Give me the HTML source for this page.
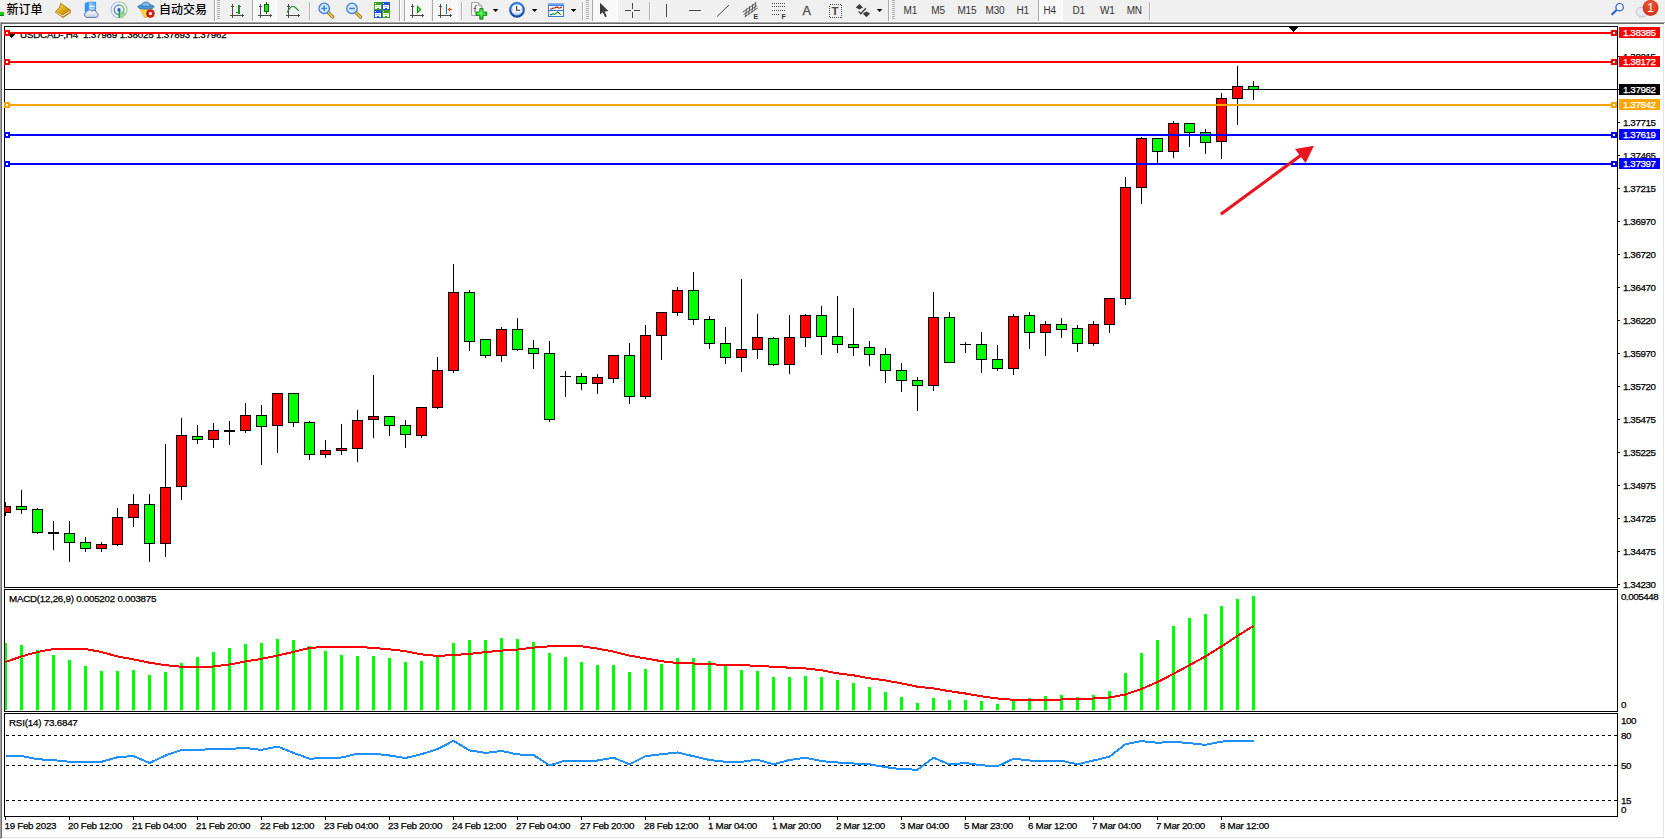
<!DOCTYPE html>
<html><head><meta charset="utf-8"><title>USDCAD-,H4</title>
<style>html,body{margin:0;padding:0;background:#fff;overflow:hidden}svg{display:block}</style>
</head><body>
<svg width="1665" height="839" viewBox="0 0 1665 839" font-family="'Liberation Sans','Noto Sans CJK SC',sans-serif" shape-rendering="crispEdges">
<rect x="0" y="0" width="1665" height="839" fill="#ffffff"/>
<rect x="0" y="0" width="1665" height="21" fill="#f0f0f0"/>
<rect x="0" y="21" width="1665" height="1" fill="#fafafa"/>
<rect x="0" y="22" width="1665" height="1" fill="#a0a0a0"/>
<rect x="0" y="23" width="1665" height="1" fill="#696969"/>
<rect x="0" y="22" width="1" height="817" fill="#a0a0a0"/>
<rect x="1" y="23" width="1" height="815" fill="#696969"/>
<rect x="1663" y="24" width="1" height="813" fill="#e3e3e3"/>
<rect x="2" y="837" width="1662" height="1" fill="#e3e3e3"/>
<rect x="1664" y="23" width="1" height="816" fill="#ffffff"/>
<rect x="1" y="838" width="1664" height="1" fill="#ffffff"/>
<g id="toolbar">
<rect x="0" y="12" width="4" height="3" fill="#14c814"/><rect x="0" y="15" width="4" height="1" fill="#0a7a0a"/>
<text x="6.5" y="13.7" font-size="12" font-weight="500" fill="#000">新订单</text>
<defs><linearGradient id="gb" x1="0" y1="0" x2="1" y2="1"><stop offset="0" stop-color="#fae070"/><stop offset="0.45" stop-color="#e4b018"/><stop offset="1" stop-color="#b87c0a"/></linearGradient><linearGradient id="cl" x1="0" y1="0" x2="0" y2="1"><stop offset="0" stop-color="#ffffff"/><stop offset="1" stop-color="#c4cfe4"/></linearGradient><linearGradient id="bx" x1="0" y1="0" x2="1" y2="0"><stop offset="0" stop-color="#1e90ff"/><stop offset="0.35" stop-color="#3aa0ff"/><stop offset="0.36" stop-color="#9fd0ff"/><stop offset="1" stop-color="#4a9ff0"/></linearGradient><radialGradient id="bd" cx="0.5" cy="0.3" r="0.8"><stop offset="0" stop-color="#ea5a3a"/><stop offset="1" stop-color="#cf2a12"/></radialGradient></defs>
<g shape-rendering="geometricPrecision"><polygon points="60.6,2.8 70.4,9.8 71.2,12.4 63,17.9 54.8,12.2 59,7.4" fill="#a8721a"/><polygon points="62.8,16.8 70.4,11.8 70,10.4 62.6,15.2 56,11.8 55.8,12.6" fill="#f0dca0"/><polygon points="61,3.8 69.6,10 62.6,14.8 56.2,11.4 59.8,7.6" fill="url(#gb)"/></g>
<g shape-rendering="geometricPrecision"><path d="M85.2 3.4 l3 -1.2 h7.4 v9.6 h-10.4 z" fill="url(#bx)" stroke="#1878e0" stroke-width="0.6"/><rect x="89.6" y="5.6" width="5" height="1.6" fill="#e8f4ff"/><rect x="89.6" y="8.2" width="5" height="1.2" fill="#cfe6ff"/><path d="M86.8 17.4 a2.7 2.7 0 0 1 -0.3 -5.3 a3 3 0 0 1 5.4 -0.9 a2.9 2.9 0 0 1 4.8 1.6 a2.4 2.4 0 0 1 -0.5 4.6 z" fill="url(#cl)" stroke="#5a78b4" stroke-width="1"/></g>
<g shape-rendering="geometricPrecision" fill="none"><path d="M119 17.8 a8 8 0 0 1 0 -16" stroke="#a9c0ea" stroke-width="1.1"/><path d="M119 1.8 a8 8 0 0 1 0 16" stroke="#9cc8a0" stroke-width="1.1"/><path d="M119 14.6 a4.8 4.8 0 0 1 0 -9.6" stroke="#5f8ce0" stroke-width="1.5"/><path d="M119 5 a4.8 4.8 0 0 1 0 9.6" stroke="#6fb87a" stroke-width="1.5"/><path d="M119.4 17.8 a8 8 0 0 0 6.6 -5 l-6.6 -2 z" fill="#8cc894" stroke="none" opacity="0.8"/><rect x="118.5" y="9.8" width="1.5" height="8" fill="#22a828" stroke="none"/><circle cx="119" cy="9.7" r="1.7" fill="#2860d0" stroke="none"/></g>
<g shape-rendering="geometricPrecision"><polygon points="139.4,8 152.6,8 146.6,17.4 144.6,17.4" fill="#f6d648" stroke="#d0a21e" stroke-width="0.6"/><ellipse cx="146" cy="6.8" rx="8.2" ry="2.4" fill="#4a9ad8" stroke="#2a6aa8" stroke-width="0.7"/><path d="M141.6 6.4 q0.4 -4.4 4.4 -4.4 q4 0 4.4 4.4 z" fill="#78b8e8" stroke="#2a6aa8" stroke-width="0.7"/><circle cx="150.4" cy="13.6" r="4" fill="#d8200e" stroke="#a81408" stroke-width="0.5"/><rect x="149" y="12.2" width="2.8" height="2.8" fill="#fff"/></g>
<text x="159" y="13.7" font-size="12" font-weight="500" fill="#000">自动交易</text>
<rect x="214" y="0" width="1" height="21" fill="#a8a8a8"/><rect x="215" y="0" width="1" height="21" fill="#ffffff"/>
<rect x="217" y="0" width="3" height="1" fill="#b0b0b0"/>
<rect x="217" y="2" width="3" height="1" fill="#b0b0b0"/>
<rect x="217" y="4" width="3" height="1" fill="#b0b0b0"/>
<rect x="217" y="6" width="3" height="1" fill="#b0b0b0"/>
<rect x="217" y="8" width="3" height="1" fill="#b0b0b0"/>
<rect x="217" y="10" width="3" height="1" fill="#b0b0b0"/>
<rect x="217" y="12" width="3" height="1" fill="#b0b0b0"/>
<rect x="217" y="14" width="3" height="1" fill="#b0b0b0"/>
<rect x="217" y="16" width="3" height="1" fill="#b0b0b0"/>
<rect x="217" y="18" width="3" height="1" fill="#b0b0b0"/>
<rect x="232" y="5" width="1" height="13" fill="#4a4a4a"/>
<rect x="230" y="15" width="13" height="1" fill="#4a4a4a"/>
<rect x="231" y="6" width="3" height="1" fill="#4a4a4a"/><rect x="232" y="4" width="1" height="1" fill="#4a4a4a"/>
<rect x="242" y="14" width="1" height="3" fill="#4a4a4a"/><rect x="243" y="15" width="1" height="1" fill="#4a4a4a"/>
<rect x="238" y="5" width="2" height="9" fill="#1e8e1e"/><rect x="240" y="6" width="1" height="1" fill="#1e8e1e"/><rect x="236" y="12" width="2" height="1" fill="#1e8e1e"/>
<rect x="252" y="0" width="25" height="21" fill="#f8f8f8"/><rect x="252" y="0" width="1" height="21" fill="#a8a8a8"/><rect x="276" y="0" width="1" height="21" fill="#ffffff"/>
<rect x="260" y="5" width="1" height="13" fill="#4a4a4a"/>
<rect x="258" y="15" width="13" height="1" fill="#4a4a4a"/>
<rect x="259" y="6" width="3" height="1" fill="#4a4a4a"/><rect x="260" y="4" width="1" height="1" fill="#4a4a4a"/>
<rect x="270" y="14" width="1" height="3" fill="#4a4a4a"/><rect x="271" y="15" width="1" height="1" fill="#4a4a4a"/>
<rect x="266" y="2" width="1" height="12" fill="#0a6a0a"/><rect x="264" y="4" width="5" height="8" fill="#0a6a0a"/><rect x="265" y="5" width="3" height="6" fill="#22dd22"/>
<rect x="288" y="5" width="1" height="13" fill="#4a4a4a"/>
<rect x="286" y="15" width="13" height="1" fill="#4a4a4a"/>
<rect x="287" y="6" width="3" height="1" fill="#4a4a4a"/><rect x="288" y="4" width="1" height="1" fill="#4a4a4a"/>
<rect x="298" y="14" width="1" height="3" fill="#4a4a4a"/><rect x="299" y="15" width="1" height="1" fill="#4a4a4a"/>
<path d="M287 12.4 Q291.5 4.8 294 6.6 T298.8 10.8" fill="none" stroke="#2a8e2a" stroke-width="1.2" shape-rendering="geometricPrecision"/>
<rect x="309" y="2" width="1" height="18" fill="#b4b4b4"/><rect x="310" y="2" width="1" height="18" fill="#fbfbfb"/>
<g shape-rendering="geometricPrecision"><line x1="328.2" y1="12.6" x2="332.8" y2="17" stroke="#8a6a14" stroke-width="3.2" stroke-linecap="round"/><line x1="328.2" y1="12.6" x2="332.8" y2="17" stroke="#e8c24a" stroke-width="1.8" stroke-linecap="round"/><circle cx="324.2" cy="8.4" r="5.2" fill="#d4e8fb" stroke="#3c7fd6" stroke-width="1.3"/><rect x="321.4" y="7.7" width="5.6" height="1.5" fill="#3c7fd6"/><rect x="323.45" y="5.6" width="1.5" height="5.6" fill="#3c7fd6"/></g>
<g shape-rendering="geometricPrecision"><line x1="356.0" y1="12.6" x2="360.6" y2="17" stroke="#8a6a14" stroke-width="3.2" stroke-linecap="round"/><line x1="356.0" y1="12.6" x2="360.6" y2="17" stroke="#e8c24a" stroke-width="1.8" stroke-linecap="round"/><circle cx="352.0" cy="8.4" r="5.2" fill="#d4e8fb" stroke="#3c7fd6" stroke-width="1.3"/><rect x="349.2" y="7.7" width="5.6" height="1.5" fill="#3c7fd6"/></g>
<rect x="374" y="2" width="8" height="8" fill="#3fa020"/><rect x="375" y="3" width="1" height="1" fill="#e8f0ff"/><rect x="375" y="5" width="6" height="4" fill="#fff"/><rect x="376" y="6" width="4" height="1" fill="#bfe0a8"/><rect x="377" y="8" width="2" height="1" fill="#3fa020"/>
<rect x="382" y="2" width="8" height="8" fill="#2456d0"/><rect x="383" y="3" width="1" height="1" fill="#e8f0ff"/><rect x="383" y="5" width="6" height="4" fill="#fff"/><rect x="384" y="6" width="4" height="1" fill="#a8c0f4"/><rect x="385" y="8" width="2" height="1" fill="#2456d0"/>
<rect x="374" y="10" width="8" height="8" fill="#2456d0"/><rect x="375" y="11" width="1" height="1" fill="#e8f0ff"/><rect x="375" y="13" width="6" height="4" fill="#fff"/><rect x="376" y="14" width="4" height="1" fill="#a8c0f4"/><rect x="377" y="16" width="2" height="1" fill="#2456d0"/>
<rect x="382" y="10" width="8" height="8" fill="#3fa020"/><rect x="383" y="11" width="1" height="1" fill="#e8f0ff"/><rect x="383" y="13" width="6" height="4" fill="#fff"/><rect x="384" y="14" width="4" height="1" fill="#bfe0a8"/><rect x="385" y="16" width="2" height="1" fill="#3fa020"/>
<rect x="399" y="0" width="1" height="21" fill="#a8a8a8"/><rect x="400" y="0" width="1" height="21" fill="#ffffff"/>
<rect x="404" y="0" width="26" height="21" fill="#f8f8f8"/><rect x="404" y="0" width="1" height="21" fill="#a8a8a8"/><rect x="429" y="0" width="1" height="21" fill="#ffffff"/>
<rect x="412" y="5" width="1" height="13" fill="#4a4a4a"/>
<rect x="410" y="15" width="13" height="1" fill="#4a4a4a"/>
<rect x="411" y="6" width="3" height="1" fill="#4a4a4a"/><rect x="412" y="4" width="1" height="1" fill="#4a4a4a"/>
<rect x="422" y="14" width="1" height="3" fill="#4a4a4a"/><rect x="423" y="15" width="1" height="1" fill="#4a4a4a"/>
<polygon points="417.5,6.5 417.5,12.5 420.6,9.5" fill="#8cf48c" stroke="#14a014" stroke-width="1.2" shape-rendering="geometricPrecision"/>
<rect x="432" y="0" width="26" height="21" fill="#f8f8f8"/><rect x="432" y="0" width="1" height="21" fill="#a8a8a8"/><rect x="457" y="0" width="1" height="21" fill="#ffffff"/>
<rect x="440" y="5" width="1" height="13" fill="#4a4a4a"/>
<rect x="438" y="15" width="13" height="1" fill="#4a4a4a"/>
<rect x="439" y="6" width="3" height="1" fill="#4a4a4a"/><rect x="440" y="4" width="1" height="1" fill="#4a4a4a"/>
<rect x="450" y="14" width="1" height="3" fill="#4a4a4a"/><rect x="451" y="15" width="1" height="1" fill="#4a4a4a"/>
<rect x="446" y="4" width="1" height="10" fill="#1878a8"/>
<polygon points="447.4,9.5 450.4,7.4 450.4,11.6" fill="#e05000" shape-rendering="geometricPrecision"/><rect x="449" y="9" width="3" height="1" fill="#e05000"/>
<rect x="461" y="2" width="1" height="18" fill="#b4b4b4"/><rect x="462" y="2" width="1" height="18" fill="#fbfbfb"/>
<defs><radialGradient id="gp" cx="0.45" cy="0.4" r="0.7"><stop offset="0" stop-color="#7dfa7d"/><stop offset="0.6" stop-color="#22d022"/><stop offset="1" stop-color="#10a814"/></radialGradient><linearGradient id="ck" x1="0" y1="0" x2="0" y2="1"><stop offset="0" stop-color="#3a8ae8"/><stop offset="1" stop-color="#1448a8"/></linearGradient><linearGradient id="cf" x1="0" y1="0" x2="0" y2="1"><stop offset="0" stop-color="#ffffff"/><stop offset="0.65" stop-color="#f2f6fc"/><stop offset="1" stop-color="#a8c8f0"/></linearGradient><linearGradient id="tb" x1="0" y1="0" x2="0" y2="1"><stop offset="0" stop-color="#9cc4f4"/><stop offset="1" stop-color="#3a7ad8"/></linearGradient></defs>
<g shape-rendering="geometricPrecision"><path d="M471.6 2.6 h7 l3.2 3.2 v9.6 h-10.2 z" fill="#fcfcfc" stroke="#909090" stroke-width="0.9"/><path d="M478.6 2.6 v3.2 h3.2" fill="#e0e0e0" stroke="#909090" stroke-width="0.8"/><path d="M477 5.2 q-2 -0.2 -2 2.2 v5.4 M473.6 8.4 h2.8" fill="none" stroke="#5a4a30" stroke-width="0.9"/><path d="M479.8 8.4 h3.2 v3.6 h3.8 v3.4 h-3.8 v3.8 h-3.2 v-3.8 h-3.8 v-3.4 h3.8 z" fill="url(#gp)" stroke="#0c8a10" stroke-width="0.9"/></g>
<polygon points="492.8,9 498.4,9 495.6,12" fill="#000" shape-rendering="geometricPrecision"/>
<g shape-rendering="geometricPrecision"><circle cx="517" cy="9.8" r="7.6" fill="url(#ck)" stroke="#123c8c" stroke-width="0.5"/><circle cx="517" cy="9.8" r="5.6" fill="url(#cf)"/><path d="M516.6 6 v4.2 h3.4" fill="none" stroke="#333" stroke-width="1.1"/><g fill="#8a8a8a"><rect x="516.7" y="4.8" width="0.7" height="1"/><rect x="516.7" y="13.8" width="0.7" height="1"/><rect x="512" y="9.5" width="1" height="0.7"/><rect x="521" y="9.5" width="1" height="0.7"/></g></g>
<polygon points="531.8,9 537.4,9 534.6,12" fill="#000" shape-rendering="geometricPrecision"/>
<rect x="548" y="3" width="16" height="14" fill="#3a78d0"/><rect x="548" y="3" width="16" height="3" fill="url(#tb)"/><rect x="549" y="6" width="14" height="4" fill="#fbfdff"/><rect x="549" y="11" width="14" height="5" fill="#fbfdff"/><path d="M550 9 h2 l1 -1 h2 l1 -0.8 h1.6 l1 0.8 h1.6 l1 -1 h1" fill="none" stroke="#a02412" stroke-width="1.2" shape-rendering="geometricPrecision"/><path d="M550 14.6 h1.6 l1.4 -1 l1.6 0.8 l1.4 -1 l1.6 -1.4 l1.6 1.2 l1.4 1.4" fill="none" stroke="#128428" stroke-width="1.1" shape-rendering="geometricPrecision"/>
<polygon points="570.8,9 576.4,9 573.6,12" fill="#000" shape-rendering="geometricPrecision"/>
<rect x="582" y="2" width="1" height="18" fill="#b4b4b4"/><rect x="583" y="2" width="1" height="18" fill="#fbfbfb"/>
<rect x="586" y="0" width="3" height="1" fill="#b0b0b0"/>
<rect x="586" y="2" width="3" height="1" fill="#b0b0b0"/>
<rect x="586" y="4" width="3" height="1" fill="#b0b0b0"/>
<rect x="586" y="6" width="3" height="1" fill="#b0b0b0"/>
<rect x="586" y="8" width="3" height="1" fill="#b0b0b0"/>
<rect x="586" y="10" width="3" height="1" fill="#b0b0b0"/>
<rect x="586" y="12" width="3" height="1" fill="#b0b0b0"/>
<rect x="586" y="14" width="3" height="1" fill="#b0b0b0"/>
<rect x="586" y="16" width="3" height="1" fill="#b0b0b0"/>
<rect x="586" y="18" width="3" height="1" fill="#b0b0b0"/>
<rect x="592" y="0" width="26" height="21" fill="#f8f8f8"/><rect x="592" y="0" width="1" height="21" fill="#a8a8a8"/><rect x="617" y="0" width="1" height="21" fill="#ffffff"/>
<polygon points="600,2.8 600,14.4 602.8,12.2 605.2,17.3 606.8,16.6 604.6,11.5 608.4,11" fill="#3c3c3c" shape-rendering="geometricPrecision"/>
<rect x="632" y="3" width="1" height="6" fill="#4a4a4a"/><rect x="632" y="12" width="1" height="6" fill="#4a4a4a"/><rect x="625" y="10" width="6" height="1" fill="#4a4a4a"/><rect x="634" y="10" width="6" height="1" fill="#4a4a4a"/>
<rect x="649" y="2" width="1" height="18" fill="#b4b4b4"/><rect x="650" y="2" width="1" height="18" fill="#fbfbfb"/>
<rect x="666" y="4" width="1" height="13" fill="#4a4a4a"/>
<rect x="689" y="10" width="12" height="1" fill="#4a4a4a"/>
<line x1="717" y1="16.6" x2="729" y2="5" stroke="#4a4a4a" stroke-width="1" shape-rendering="geometricPrecision"/>
<g shape-rendering="geometricPrecision" stroke="#4a4a4a" stroke-width="0.9" fill="none"><path d="M742.6 12.2 L756 3 M743.6 14.6 L757 5.6 M744.6 17 L757.6 8 M746.6 8.6 l-1.2 8.4 M749.8 6.2 l-1.2 8.6 M753 4 l-1.2 8.6 M755.8 2 l-1 7.6"/></g>
<text x="753.6" y="18.8" font-size="7" font-weight="bold" fill="#333">E</text>
<line x1="772" y1="3.5" x2="786" y2="3.5" stroke="#4a4a4a" stroke-width="1" stroke-dasharray="1,1"/>
<line x1="772" y1="6.5" x2="786" y2="6.5" stroke="#4a4a4a" stroke-width="1" stroke-dasharray="1,1"/>
<line x1="772" y1="10.5" x2="786" y2="10.5" stroke="#4a4a4a" stroke-width="1" stroke-dasharray="1,1"/>
<line x1="772" y1="14.5" x2="786" y2="14.5" stroke="#4a4a4a" stroke-width="1" stroke-dasharray="1,1"/>
<rect x="780" y="13" width="7" height="7" fill="#f0f0f0"/><text x="781.6" y="18.8" font-size="7" font-weight="bold" fill="#333">F</text>
<text x="802.4" y="14.8" font-size="12.5" fill="#4a4a4a" stroke="#4a4a4a" stroke-width="0.3">A</text>
<rect x="829" y="4" width="12" height="13" fill="none" stroke="#4a4a4a" stroke-width="1" stroke-dasharray="1,1" transform="translate(0.5,0.5)"/>
<text x="831.6" y="15" font-size="11.5" font-weight="bold" fill="#4a4a4a">T</text>
<g shape-rendering="geometricPrecision" fill="#3c3c3c"><polygon points="859.4,4 863,7.6 859.4,9.6 855.8,7.6"/><polygon points="866.4,11.4 870,13.6 866.4,17.2 862.8,13.6"/><path d="M858.6 11.4 l2.2 2.4 l5 -5.6" fill="none" stroke="#3c3c3c" stroke-width="1.3"/></g>
<polygon points="876.8,9 882.4,9 879.6,12" fill="#000" shape-rendering="geometricPrecision"/>
<rect x="888" y="0" width="1" height="21" fill="#a8a8a8"/><rect x="889" y="0" width="1" height="21" fill="#ffffff"/>
<rect x="892" y="0" width="3" height="1" fill="#b0b0b0"/>
<rect x="892" y="2" width="3" height="1" fill="#b0b0b0"/>
<rect x="892" y="4" width="3" height="1" fill="#b0b0b0"/>
<rect x="892" y="6" width="3" height="1" fill="#b0b0b0"/>
<rect x="892" y="8" width="3" height="1" fill="#b0b0b0"/>
<rect x="892" y="10" width="3" height="1" fill="#b0b0b0"/>
<rect x="892" y="12" width="3" height="1" fill="#b0b0b0"/>
<rect x="892" y="14" width="3" height="1" fill="#b0b0b0"/>
<rect x="892" y="16" width="3" height="1" fill="#b0b0b0"/>
<rect x="892" y="18" width="3" height="1" fill="#b0b0b0"/>
<rect x="1038" y="0" width="25" height="21" fill="#f8f8f8"/><rect x="1038" y="0" width="1" height="21" fill="#a8a8a8"/><rect x="1062" y="0" width="1" height="21" fill="#ffffff"/>
<text x="903.5" y="14" font-size="10" fill="#333" letter-spacing="-0.2">M1</text>
<text x="931.3" y="14" font-size="10" fill="#333" letter-spacing="-0.2">M5</text>
<text x="957.4" y="14" font-size="10" fill="#333" letter-spacing="-0.2">M15</text>
<text x="985.6" y="14" font-size="10" fill="#333" letter-spacing="-0.2">M30</text>
<text x="1016.6" y="14" font-size="10" fill="#333" letter-spacing="-0.2">H1</text>
<text x="1043.5" y="14" font-size="10" fill="#333" letter-spacing="-0.2">H4</text>
<text x="1072.6" y="14" font-size="10" fill="#333" letter-spacing="-0.2">D1</text>
<text x="1100" y="14" font-size="10" fill="#333" letter-spacing="-0.2">W1</text>
<text x="1126.7" y="14" font-size="10" fill="#333" letter-spacing="-0.2">MN</text>
<rect x="1149" y="2" width="1" height="18" fill="#b4b4b4"/><rect x="1150" y="2" width="1" height="18" fill="#fbfbfb"/>
<g shape-rendering="geometricPrecision"><line x1="1611.6" y1="14.8" x2="1616.6" y2="10" stroke="#2a5fd0" stroke-width="2"/><circle cx="1619.6" cy="7.2" r="3.7" fill="#f4f7ff" stroke="#2a5fd0" stroke-width="1.2"/></g>
<g shape-rendering="geometricPrecision"><ellipse cx="1642" cy="12" rx="6" ry="4.8" fill="#e6e8f2" stroke="#b9bcc8" stroke-width="0.8"/><polygon points="1638.6,15.6 1641.8,16 1639.6,18.8" fill="#d0d3de"/><circle cx="1650.6" cy="7.9" r="8" fill="url(#bd)"/></g>
<text x="1650.6" y="11.9" font-size="12" fill="#fff" text-anchor="middle">1</text>
</g>
<rect x="4" y="26" width="1614" height="1" fill="#000"/>
<rect x="4" y="26" width="1" height="562" fill="#000"/>
<rect x="4" y="587" width="1614" height="1" fill="#000"/>
<rect x="1617" y="26" width="1" height="562" fill="#000"/>
<rect x="4" y="589" width="1614" height="1" fill="#000"/>
<rect x="4" y="589" width="1" height="123" fill="#000"/>
<rect x="4" y="711" width="1614" height="1" fill="#000"/>
<rect x="1617" y="589" width="1" height="123" fill="#000"/>
<rect x="4" y="713" width="1614" height="1" fill="#000"/>
<rect x="4" y="713" width="1" height="104" fill="#000"/>
<rect x="4" y="816" width="1614" height="1" fill="#000"/>
<rect x="1617" y="713" width="1" height="104" fill="#000"/>
<rect x="8" y="34" width="7" height="1" fill="#000"/>
<rect x="9" y="35" width="5" height="1" fill="#000"/>
<rect x="10" y="36" width="3" height="1" fill="#000"/>
<rect x="11" y="37" width="1" height="1" fill="#000"/>
<text x="20" y="37.5" font-size="9.8" fill="#000" stroke="#000" stroke-width="0.25" letter-spacing="-0.2">USDCAD-,H4&#160; 1.37989 1.38025 1.37893 1.37962</text>
<rect x="5" y="89" width="1614" height="1" fill="#000"/>
<g id="candles">
<rect x="5" y="502" width="1" height="14" fill="#000"/>
<rect x="0" y="506" width="11" height="7" fill="#000"/>
<rect x="1" y="507" width="9" height="5" fill="#ff0000"/>
<rect x="21" y="490" width="1" height="24" fill="#000"/>
<rect x="16" y="506" width="11" height="4" fill="#000"/>
<rect x="17" y="507" width="9" height="2" fill="#00ff00"/>
<rect x="37" y="508" width="1" height="26" fill="#000"/>
<rect x="32" y="509" width="11" height="24" fill="#000"/>
<rect x="33" y="510" width="9" height="22" fill="#00ff00"/>
<rect x="53" y="521" width="1" height="29" fill="#000"/>
<rect x="48" y="532" width="11" height="2" fill="#000"/>
<rect x="69" y="521" width="1" height="41" fill="#000"/>
<rect x="64" y="533" width="11" height="10" fill="#000"/>
<rect x="65" y="534" width="9" height="8" fill="#00ff00"/>
<rect x="85" y="537" width="1" height="15" fill="#000"/>
<rect x="80" y="542" width="11" height="7" fill="#000"/>
<rect x="81" y="543" width="9" height="5" fill="#00ff00"/>
<rect x="101" y="542" width="1" height="10" fill="#000"/>
<rect x="96" y="544" width="11" height="5" fill="#000"/>
<rect x="97" y="545" width="9" height="3" fill="#ff0000"/>
<rect x="117" y="508" width="1" height="38" fill="#000"/>
<rect x="112" y="517" width="11" height="28" fill="#000"/>
<rect x="113" y="518" width="9" height="26" fill="#ff0000"/>
<rect x="133" y="494" width="1" height="33" fill="#000"/>
<rect x="128" y="504" width="11" height="14" fill="#000"/>
<rect x="129" y="505" width="9" height="12" fill="#ff0000"/>
<rect x="149" y="494" width="1" height="68" fill="#000"/>
<rect x="144" y="504" width="11" height="40" fill="#000"/>
<rect x="145" y="505" width="9" height="38" fill="#00ff00"/>
<rect x="165" y="444" width="1" height="113" fill="#000"/>
<rect x="160" y="487" width="11" height="57" fill="#000"/>
<rect x="161" y="488" width="9" height="55" fill="#ff0000"/>
<rect x="181" y="418" width="1" height="82" fill="#000"/>
<rect x="176" y="435" width="11" height="52" fill="#000"/>
<rect x="177" y="436" width="9" height="50" fill="#ff0000"/>
<rect x="197" y="425" width="1" height="19" fill="#000"/>
<rect x="192" y="436" width="11" height="4" fill="#000"/>
<rect x="193" y="437" width="9" height="2" fill="#00ff00"/>
<rect x="213" y="423" width="1" height="25" fill="#000"/>
<rect x="208" y="430" width="11" height="10" fill="#000"/>
<rect x="209" y="431" width="9" height="8" fill="#ff0000"/>
<rect x="229" y="421" width="1" height="24" fill="#000"/>
<rect x="224" y="430" width="11" height="2" fill="#000"/>
<rect x="245" y="403" width="1" height="30" fill="#000"/>
<rect x="240" y="415" width="11" height="16" fill="#000"/>
<rect x="241" y="416" width="9" height="14" fill="#ff0000"/>
<rect x="261" y="405" width="1" height="60" fill="#000"/>
<rect x="256" y="415" width="11" height="12" fill="#000"/>
<rect x="257" y="416" width="9" height="10" fill="#00ff00"/>
<rect x="277" y="393" width="1" height="60" fill="#000"/>
<rect x="272" y="393" width="11" height="33" fill="#000"/>
<rect x="273" y="394" width="9" height="31" fill="#ff0000"/>
<rect x="293" y="393" width="1" height="34" fill="#000"/>
<rect x="288" y="393" width="11" height="30" fill="#000"/>
<rect x="289" y="394" width="9" height="28" fill="#00ff00"/>
<rect x="309" y="421" width="1" height="39" fill="#000"/>
<rect x="304" y="422" width="11" height="33" fill="#000"/>
<rect x="305" y="423" width="9" height="31" fill="#00ff00"/>
<rect x="325" y="440" width="1" height="18" fill="#000"/>
<rect x="320" y="450" width="11" height="5" fill="#000"/>
<rect x="321" y="451" width="9" height="3" fill="#ff0000"/>
<rect x="341" y="424" width="1" height="31" fill="#000"/>
<rect x="336" y="448" width="11" height="3" fill="#000"/>
<rect x="337" y="449" width="9" height="1" fill="#ff0000"/>
<rect x="357" y="410" width="1" height="52" fill="#000"/>
<rect x="352" y="420" width="11" height="29" fill="#000"/>
<rect x="353" y="421" width="9" height="27" fill="#ff0000"/>
<rect x="373" y="375" width="1" height="63" fill="#000"/>
<rect x="368" y="416" width="11" height="4" fill="#000"/>
<rect x="369" y="417" width="9" height="2" fill="#ff0000"/>
<rect x="389" y="416" width="1" height="20" fill="#000"/>
<rect x="384" y="416" width="11" height="10" fill="#000"/>
<rect x="385" y="417" width="9" height="8" fill="#00ff00"/>
<rect x="405" y="420" width="1" height="28" fill="#000"/>
<rect x="400" y="425" width="11" height="10" fill="#000"/>
<rect x="401" y="426" width="9" height="8" fill="#00ff00"/>
<rect x="421" y="407" width="1" height="31" fill="#000"/>
<rect x="416" y="407" width="11" height="29" fill="#000"/>
<rect x="417" y="408" width="9" height="27" fill="#ff0000"/>
<rect x="437" y="357" width="1" height="52" fill="#000"/>
<rect x="432" y="370" width="11" height="38" fill="#000"/>
<rect x="433" y="371" width="9" height="36" fill="#ff0000"/>
<rect x="453" y="264" width="1" height="109" fill="#000"/>
<rect x="448" y="292" width="11" height="79" fill="#000"/>
<rect x="449" y="293" width="9" height="77" fill="#ff0000"/>
<rect x="469" y="290" width="1" height="61" fill="#000"/>
<rect x="464" y="292" width="11" height="50" fill="#000"/>
<rect x="465" y="293" width="9" height="48" fill="#00ff00"/>
<rect x="485" y="339" width="1" height="19" fill="#000"/>
<rect x="480" y="339" width="11" height="17" fill="#000"/>
<rect x="481" y="340" width="9" height="15" fill="#00ff00"/>
<rect x="501" y="327" width="1" height="35" fill="#000"/>
<rect x="496" y="329" width="11" height="27" fill="#000"/>
<rect x="497" y="330" width="9" height="25" fill="#ff0000"/>
<rect x="517" y="318" width="1" height="33" fill="#000"/>
<rect x="512" y="329" width="11" height="21" fill="#000"/>
<rect x="513" y="330" width="9" height="19" fill="#00ff00"/>
<rect x="533" y="340" width="1" height="29" fill="#000"/>
<rect x="528" y="348" width="11" height="6" fill="#000"/>
<rect x="529" y="349" width="9" height="4" fill="#00ff00"/>
<rect x="549" y="341" width="1" height="81" fill="#000"/>
<rect x="544" y="353" width="11" height="67" fill="#000"/>
<rect x="545" y="354" width="9" height="65" fill="#00ff00"/>
<rect x="565" y="371" width="1" height="26" fill="#000"/>
<rect x="560" y="376" width="11" height="1" fill="#000"/>
<rect x="581" y="373" width="1" height="17" fill="#000"/>
<rect x="576" y="376" width="11" height="8" fill="#000"/>
<rect x="577" y="377" width="9" height="6" fill="#00ff00"/>
<rect x="597" y="374" width="1" height="20" fill="#000"/>
<rect x="592" y="377" width="11" height="7" fill="#000"/>
<rect x="593" y="378" width="9" height="5" fill="#ff0000"/>
<rect x="613" y="355" width="1" height="28" fill="#000"/>
<rect x="608" y="355" width="11" height="24" fill="#000"/>
<rect x="609" y="356" width="9" height="22" fill="#ff0000"/>
<rect x="629" y="343" width="1" height="61" fill="#000"/>
<rect x="624" y="355" width="11" height="42" fill="#000"/>
<rect x="625" y="356" width="9" height="40" fill="#00ff00"/>
<rect x="645" y="325" width="1" height="74" fill="#000"/>
<rect x="640" y="335" width="11" height="62" fill="#000"/>
<rect x="641" y="336" width="9" height="60" fill="#ff0000"/>
<rect x="661" y="312" width="1" height="48" fill="#000"/>
<rect x="656" y="312" width="11" height="24" fill="#000"/>
<rect x="657" y="313" width="9" height="22" fill="#ff0000"/>
<rect x="677" y="287" width="1" height="29" fill="#000"/>
<rect x="672" y="290" width="11" height="23" fill="#000"/>
<rect x="673" y="291" width="9" height="21" fill="#ff0000"/>
<rect x="693" y="272" width="1" height="53" fill="#000"/>
<rect x="688" y="290" width="11" height="30" fill="#000"/>
<rect x="689" y="291" width="9" height="28" fill="#00ff00"/>
<rect x="709" y="316" width="1" height="33" fill="#000"/>
<rect x="704" y="319" width="11" height="25" fill="#000"/>
<rect x="705" y="320" width="9" height="23" fill="#00ff00"/>
<rect x="725" y="327" width="1" height="37" fill="#000"/>
<rect x="720" y="343" width="11" height="15" fill="#000"/>
<rect x="721" y="344" width="9" height="13" fill="#00ff00"/>
<rect x="741" y="279" width="1" height="93" fill="#000"/>
<rect x="736" y="349" width="11" height="9" fill="#000"/>
<rect x="737" y="350" width="9" height="7" fill="#ff0000"/>
<rect x="757" y="314" width="1" height="45" fill="#000"/>
<rect x="752" y="337" width="11" height="13" fill="#000"/>
<rect x="753" y="338" width="9" height="11" fill="#ff0000"/>
<rect x="773" y="337" width="1" height="29" fill="#000"/>
<rect x="768" y="338" width="11" height="27" fill="#000"/>
<rect x="769" y="339" width="9" height="25" fill="#00ff00"/>
<rect x="789" y="315" width="1" height="59" fill="#000"/>
<rect x="784" y="337" width="11" height="28" fill="#000"/>
<rect x="785" y="338" width="9" height="26" fill="#ff0000"/>
<rect x="805" y="314" width="1" height="33" fill="#000"/>
<rect x="800" y="315" width="11" height="23" fill="#000"/>
<rect x="801" y="316" width="9" height="21" fill="#ff0000"/>
<rect x="821" y="306" width="1" height="49" fill="#000"/>
<rect x="816" y="315" width="11" height="22" fill="#000"/>
<rect x="817" y="316" width="9" height="20" fill="#00ff00"/>
<rect x="837" y="296" width="1" height="57" fill="#000"/>
<rect x="832" y="336" width="11" height="9" fill="#000"/>
<rect x="833" y="337" width="9" height="7" fill="#00ff00"/>
<rect x="853" y="308" width="1" height="48" fill="#000"/>
<rect x="848" y="344" width="11" height="4" fill="#000"/>
<rect x="849" y="345" width="9" height="2" fill="#00ff00"/>
<rect x="869" y="341" width="1" height="25" fill="#000"/>
<rect x="864" y="347" width="11" height="8" fill="#000"/>
<rect x="865" y="348" width="9" height="6" fill="#00ff00"/>
<rect x="885" y="348" width="1" height="35" fill="#000"/>
<rect x="880" y="354" width="11" height="17" fill="#000"/>
<rect x="881" y="355" width="9" height="15" fill="#00ff00"/>
<rect x="901" y="363" width="1" height="29" fill="#000"/>
<rect x="896" y="370" width="11" height="11" fill="#000"/>
<rect x="897" y="371" width="9" height="9" fill="#00ff00"/>
<rect x="917" y="377" width="1" height="34" fill="#000"/>
<rect x="912" y="380" width="11" height="6" fill="#000"/>
<rect x="913" y="381" width="9" height="4" fill="#00ff00"/>
<rect x="933" y="292" width="1" height="99" fill="#000"/>
<rect x="928" y="317" width="11" height="69" fill="#000"/>
<rect x="929" y="318" width="9" height="67" fill="#ff0000"/>
<rect x="949" y="312" width="1" height="51" fill="#000"/>
<rect x="944" y="317" width="11" height="46" fill="#000"/>
<rect x="945" y="318" width="9" height="44" fill="#00ff00"/>
<rect x="965" y="342" width="1" height="11" fill="#000"/>
<rect x="960" y="344" width="11" height="1" fill="#000"/>
<rect x="981" y="332" width="1" height="41" fill="#000"/>
<rect x="976" y="344" width="11" height="16" fill="#000"/>
<rect x="977" y="345" width="9" height="14" fill="#00ff00"/>
<rect x="997" y="345" width="1" height="26" fill="#000"/>
<rect x="992" y="359" width="11" height="10" fill="#000"/>
<rect x="993" y="360" width="9" height="8" fill="#00ff00"/>
<rect x="1013" y="314" width="1" height="61" fill="#000"/>
<rect x="1008" y="316" width="11" height="53" fill="#000"/>
<rect x="1009" y="317" width="9" height="51" fill="#ff0000"/>
<rect x="1029" y="312" width="1" height="37" fill="#000"/>
<rect x="1024" y="315" width="11" height="18" fill="#000"/>
<rect x="1025" y="316" width="9" height="16" fill="#00ff00"/>
<rect x="1045" y="321" width="1" height="35" fill="#000"/>
<rect x="1040" y="324" width="11" height="9" fill="#000"/>
<rect x="1041" y="325" width="9" height="7" fill="#ff0000"/>
<rect x="1061" y="318" width="1" height="20" fill="#000"/>
<rect x="1056" y="324" width="11" height="6" fill="#000"/>
<rect x="1057" y="325" width="9" height="4" fill="#00ff00"/>
<rect x="1077" y="325" width="1" height="27" fill="#000"/>
<rect x="1072" y="328" width="11" height="16" fill="#000"/>
<rect x="1073" y="329" width="9" height="14" fill="#00ff00"/>
<rect x="1093" y="321" width="1" height="25" fill="#000"/>
<rect x="1088" y="324" width="11" height="20" fill="#000"/>
<rect x="1089" y="325" width="9" height="18" fill="#ff0000"/>
<rect x="1109" y="298" width="1" height="35" fill="#000"/>
<rect x="1104" y="298" width="11" height="27" fill="#000"/>
<rect x="1105" y="299" width="9" height="25" fill="#ff0000"/>
<rect x="1125" y="177" width="1" height="128" fill="#000"/>
<rect x="1120" y="187" width="11" height="112" fill="#000"/>
<rect x="1121" y="188" width="9" height="110" fill="#ff0000"/>
<rect x="1141" y="137" width="1" height="67" fill="#000"/>
<rect x="1136" y="138" width="11" height="50" fill="#000"/>
<rect x="1137" y="139" width="9" height="48" fill="#ff0000"/>
<rect x="1157" y="138" width="1" height="25" fill="#000"/>
<rect x="1152" y="138" width="11" height="14" fill="#000"/>
<rect x="1153" y="139" width="9" height="12" fill="#00ff00"/>
<rect x="1173" y="121" width="1" height="37" fill="#000"/>
<rect x="1168" y="123" width="11" height="29" fill="#000"/>
<rect x="1169" y="124" width="9" height="27" fill="#ff0000"/>
<rect x="1189" y="123" width="1" height="24" fill="#000"/>
<rect x="1184" y="123" width="11" height="10" fill="#000"/>
<rect x="1185" y="124" width="9" height="8" fill="#00ff00"/>
<rect x="1205" y="129" width="1" height="25" fill="#000"/>
<rect x="1200" y="132" width="11" height="11" fill="#000"/>
<rect x="1201" y="133" width="9" height="9" fill="#00ff00"/>
<rect x="1221" y="93" width="1" height="66" fill="#000"/>
<rect x="1216" y="98" width="11" height="44" fill="#000"/>
<rect x="1217" y="99" width="9" height="42" fill="#ff0000"/>
<rect x="1237" y="66" width="1" height="59" fill="#000"/>
<rect x="1232" y="86" width="11" height="13" fill="#000"/>
<rect x="1233" y="87" width="9" height="11" fill="#ff0000"/>
<rect x="1253" y="81" width="1" height="19" fill="#000"/>
<rect x="1248" y="86" width="11" height="4" fill="#000"/>
<rect x="1249" y="87" width="9" height="2" fill="#00ff00"/>
</g>
<rect x="0" y="480" width="1" height="60" fill="#a0a0a0"/>
<rect x="1" y="480" width="1" height="60" fill="#696969"/>
<rect x="2" y="480" width="2" height="60" fill="#fff"/>
<rect x="4" y="480" width="1" height="60" fill="#000"/>
<rect x="10" y="32" width="1601" height="2" fill="#ff0000"/>
<rect x="4" y="30" width="6" height="6" fill="#ff0000"/>
<rect x="6" y="32" width="2" height="2" fill="#fff"/>
<rect x="1611" y="30" width="6" height="6" fill="#ff0000"/>
<rect x="1613" y="32" width="2" height="2" fill="#fff"/>
<rect x="10" y="61" width="1601" height="2" fill="#ff0000"/>
<rect x="4" y="59" width="6" height="6" fill="#ff0000"/>
<rect x="6" y="61" width="2" height="2" fill="#fff"/>
<rect x="1611" y="59" width="6" height="6" fill="#ff0000"/>
<rect x="1613" y="61" width="2" height="2" fill="#fff"/>
<rect x="10" y="104" width="1601" height="2" fill="#ffa500"/>
<rect x="4" y="102" width="6" height="6" fill="#ffa500"/>
<rect x="6" y="104" width="2" height="2" fill="#fff"/>
<rect x="1611" y="102" width="6" height="6" fill="#ffa500"/>
<rect x="1613" y="104" width="2" height="2" fill="#fff"/>
<rect x="10" y="134" width="1601" height="2" fill="#0000ff"/>
<rect x="4" y="132" width="6" height="6" fill="#0000ff"/>
<rect x="6" y="134" width="2" height="2" fill="#fff"/>
<rect x="1611" y="132" width="6" height="6" fill="#0000ff"/>
<rect x="1613" y="134" width="2" height="2" fill="#fff"/>
<rect x="10" y="163" width="1601" height="2" fill="#0000ff"/>
<rect x="4" y="161" width="6" height="6" fill="#0000ff"/>
<rect x="6" y="163" width="2" height="2" fill="#fff"/>
<rect x="1611" y="161" width="6" height="6" fill="#0000ff"/>
<rect x="1613" y="163" width="2" height="2" fill="#fff"/>
<rect x="1289" y="27" width="9" height="1" fill="#000"/>
<rect x="1290" y="28" width="7" height="1" fill="#000"/>
<rect x="1291" y="29" width="5" height="1" fill="#000"/>
<rect x="1292" y="30" width="3" height="1" fill="#000"/>
<rect x="1293" y="31" width="1" height="1" fill="#000"/>
<rect x="1618" y="56" width="2" height="1" fill="#000"/>
<text x="1623" y="59.5" font-size="9.8" fill="#000" stroke="#000" stroke-width="0.25" letter-spacing="-0.4">1.38215</text>
<rect x="1618" y="122" width="2" height="1" fill="#000"/>
<text x="1623" y="125.5" font-size="9.8" fill="#000" stroke="#000" stroke-width="0.25" letter-spacing="-0.4">1.37715</text>
<rect x="1618" y="155" width="2" height="1" fill="#000"/>
<text x="1623" y="158.5" font-size="9.8" fill="#000" stroke="#000" stroke-width="0.25" letter-spacing="-0.4">1.37465</text>
<rect x="1618" y="188" width="2" height="1" fill="#000"/>
<text x="1623" y="191.5" font-size="9.8" fill="#000" stroke="#000" stroke-width="0.25" letter-spacing="-0.4">1.37215</text>
<rect x="1618" y="221" width="2" height="1" fill="#000"/>
<text x="1623" y="224.5" font-size="9.8" fill="#000" stroke="#000" stroke-width="0.25" letter-spacing="-0.4">1.36970</text>
<rect x="1618" y="254" width="2" height="1" fill="#000"/>
<text x="1623" y="257.5" font-size="9.8" fill="#000" stroke="#000" stroke-width="0.25" letter-spacing="-0.4">1.36720</text>
<rect x="1618" y="287" width="2" height="1" fill="#000"/>
<text x="1623" y="290.5" font-size="9.8" fill="#000" stroke="#000" stroke-width="0.25" letter-spacing="-0.4">1.36470</text>
<rect x="1618" y="320" width="2" height="1" fill="#000"/>
<text x="1623" y="323.5" font-size="9.8" fill="#000" stroke="#000" stroke-width="0.25" letter-spacing="-0.4">1.36220</text>
<rect x="1618" y="353" width="2" height="1" fill="#000"/>
<text x="1623" y="356.5" font-size="9.8" fill="#000" stroke="#000" stroke-width="0.25" letter-spacing="-0.4">1.35970</text>
<rect x="1618" y="386" width="2" height="1" fill="#000"/>
<text x="1623" y="389.5" font-size="9.8" fill="#000" stroke="#000" stroke-width="0.25" letter-spacing="-0.4">1.35720</text>
<rect x="1618" y="419" width="2" height="1" fill="#000"/>
<text x="1623" y="422.5" font-size="9.8" fill="#000" stroke="#000" stroke-width="0.25" letter-spacing="-0.4">1.35475</text>
<rect x="1618" y="452" width="2" height="1" fill="#000"/>
<text x="1623" y="455.5" font-size="9.8" fill="#000" stroke="#000" stroke-width="0.25" letter-spacing="-0.4">1.35225</text>
<rect x="1618" y="485" width="2" height="1" fill="#000"/>
<text x="1623" y="488.5" font-size="9.8" fill="#000" stroke="#000" stroke-width="0.25" letter-spacing="-0.4">1.34975</text>
<rect x="1618" y="518" width="2" height="1" fill="#000"/>
<text x="1623" y="521.5" font-size="9.8" fill="#000" stroke="#000" stroke-width="0.25" letter-spacing="-0.4">1.34725</text>
<rect x="1618" y="551" width="2" height="1" fill="#000"/>
<text x="1623" y="554.5" font-size="9.8" fill="#000" stroke="#000" stroke-width="0.25" letter-spacing="-0.4">1.34475</text>
<rect x="1618" y="584" width="2" height="1" fill="#000"/>
<text x="1623" y="587.5" font-size="9.8" fill="#000" stroke="#000" stroke-width="0.25" letter-spacing="-0.4">1.34230</text>
<rect x="1619" y="27" width="41" height="11" fill="#ff0000"/>
<text x="1623" y="35.5" font-size="9.8" fill="#fff" stroke="#fff" stroke-width="0.25" letter-spacing="-0.4">1.38385</text>
<rect x="1619" y="56" width="41" height="11" fill="#ff0000"/>
<text x="1623" y="64.5" font-size="9.8" fill="#fff" stroke="#fff" stroke-width="0.25" letter-spacing="-0.4">1.38172</text>
<rect x="1619" y="84" width="41" height="11" fill="#000000"/>
<text x="1623" y="92.5" font-size="9.8" fill="#fff" stroke="#fff" stroke-width="0.25" letter-spacing="-0.4">1.37962</text>
<rect x="1619" y="99" width="41" height="11" fill="#ffa500"/>
<text x="1623" y="107.5" font-size="9.8" fill="#fff" stroke="#fff" stroke-width="0.25" letter-spacing="-0.4">1.37842</text>
<rect x="1619" y="129" width="41" height="11" fill="#0000ff"/>
<text x="1623" y="137.5" font-size="9.8" fill="#fff" stroke="#fff" stroke-width="0.25" letter-spacing="-0.4">1.37619</text>
<rect x="1619" y="158" width="41" height="11" fill="#0000ff"/>
<text x="1623" y="166.5" font-size="9.8" fill="#fff" stroke="#fff" stroke-width="0.25" letter-spacing="-0.4">1.37397</text>
<g shape-rendering="geometricPrecision"><line x1="1220.8" y1="214.3" x2="1303" y2="153.8" stroke="#e8141f" stroke-width="3.2"/><polygon points="1314,145.8 1295,149 1305.6,163" fill="#e8141f"/></g>
<text x="9" y="601.5" font-size="9.8" fill="#000" stroke="#000" stroke-width="0.25" letter-spacing="-0.26">MACD(12,26,9) 0.005202 0.003875</text>
<g id="macd">
<rect x="5" y="643" width="2" height="67" fill="#00ff00"/>
<rect x="20" y="645" width="3" height="65" fill="#00ff00"/>
<rect x="36" y="650" width="3" height="60" fill="#00ff00"/>
<rect x="52" y="655" width="3" height="55" fill="#00ff00"/>
<rect x="68" y="660" width="3" height="50" fill="#00ff00"/>
<rect x="84" y="666" width="3" height="44" fill="#00ff00"/>
<rect x="100" y="671" width="3" height="39" fill="#00ff00"/>
<rect x="116" y="671" width="3" height="39" fill="#00ff00"/>
<rect x="132" y="670" width="3" height="40" fill="#00ff00"/>
<rect x="148" y="675" width="3" height="35" fill="#00ff00"/>
<rect x="164" y="672" width="3" height="38" fill="#00ff00"/>
<rect x="180" y="663" width="3" height="47" fill="#00ff00"/>
<rect x="196" y="657" width="3" height="53" fill="#00ff00"/>
<rect x="212" y="652" width="3" height="58" fill="#00ff00"/>
<rect x="228" y="648" width="3" height="62" fill="#00ff00"/>
<rect x="244" y="644" width="3" height="66" fill="#00ff00"/>
<rect x="260" y="643" width="3" height="67" fill="#00ff00"/>
<rect x="276" y="639" width="3" height="71" fill="#00ff00"/>
<rect x="292" y="640" width="3" height="70" fill="#00ff00"/>
<rect x="308" y="646" width="3" height="64" fill="#00ff00"/>
<rect x="324" y="651" width="3" height="59" fill="#00ff00"/>
<rect x="340" y="655" width="3" height="55" fill="#00ff00"/>
<rect x="356" y="656" width="3" height="54" fill="#00ff00"/>
<rect x="372" y="656" width="3" height="54" fill="#00ff00"/>
<rect x="388" y="658" width="3" height="52" fill="#00ff00"/>
<rect x="404" y="662" width="3" height="48" fill="#00ff00"/>
<rect x="420" y="661" width="3" height="49" fill="#00ff00"/>
<rect x="436" y="657" width="3" height="53" fill="#00ff00"/>
<rect x="452" y="643" width="3" height="67" fill="#00ff00"/>
<rect x="468" y="640" width="3" height="70" fill="#00ff00"/>
<rect x="484" y="640" width="3" height="70" fill="#00ff00"/>
<rect x="500" y="638" width="3" height="72" fill="#00ff00"/>
<rect x="516" y="639" width="3" height="71" fill="#00ff00"/>
<rect x="532" y="642" width="3" height="68" fill="#00ff00"/>
<rect x="548" y="653" width="3" height="57" fill="#00ff00"/>
<rect x="564" y="657" width="3" height="53" fill="#00ff00"/>
<rect x="580" y="662" width="3" height="48" fill="#00ff00"/>
<rect x="596" y="665" width="3" height="45" fill="#00ff00"/>
<rect x="612" y="665" width="3" height="45" fill="#00ff00"/>
<rect x="628" y="672" width="3" height="38" fill="#00ff00"/>
<rect x="644" y="669" width="3" height="41" fill="#00ff00"/>
<rect x="660" y="664" width="3" height="46" fill="#00ff00"/>
<rect x="676" y="658" width="3" height="52" fill="#00ff00"/>
<rect x="692" y="658" width="3" height="52" fill="#00ff00"/>
<rect x="708" y="661" width="3" height="49" fill="#00ff00"/>
<rect x="724" y="666" width="3" height="44" fill="#00ff00"/>
<rect x="740" y="670" width="3" height="40" fill="#00ff00"/>
<rect x="756" y="671" width="3" height="39" fill="#00ff00"/>
<rect x="772" y="677" width="3" height="33" fill="#00ff00"/>
<rect x="788" y="677" width="3" height="33" fill="#00ff00"/>
<rect x="804" y="676" width="3" height="34" fill="#00ff00"/>
<rect x="820" y="677" width="3" height="33" fill="#00ff00"/>
<rect x="836" y="680" width="3" height="30" fill="#00ff00"/>
<rect x="852" y="683" width="3" height="27" fill="#00ff00"/>
<rect x="868" y="687" width="3" height="23" fill="#00ff00"/>
<rect x="884" y="692" width="3" height="18" fill="#00ff00"/>
<rect x="900" y="697" width="3" height="13" fill="#00ff00"/>
<rect x="916" y="703" width="3" height="7" fill="#00ff00"/>
<rect x="932" y="698" width="3" height="12" fill="#00ff00"/>
<rect x="948" y="700" width="3" height="10" fill="#00ff00"/>
<rect x="964" y="700" width="3" height="10" fill="#00ff00"/>
<rect x="980" y="701" width="3" height="9" fill="#00ff00"/>
<rect x="996" y="704" width="3" height="6" fill="#00ff00"/>
<rect x="1012" y="699" width="3" height="11" fill="#00ff00"/>
<rect x="1028" y="698" width="3" height="12" fill="#00ff00"/>
<rect x="1044" y="696" width="3" height="14" fill="#00ff00"/>
<rect x="1060" y="695" width="3" height="15" fill="#00ff00"/>
<rect x="1076" y="697" width="3" height="13" fill="#00ff00"/>
<rect x="1092" y="695" width="3" height="15" fill="#00ff00"/>
<rect x="1108" y="691" width="3" height="19" fill="#00ff00"/>
<rect x="1124" y="673" width="3" height="37" fill="#00ff00"/>
<rect x="1140" y="653" width="3" height="57" fill="#00ff00"/>
<rect x="1156" y="640" width="3" height="70" fill="#00ff00"/>
<rect x="1172" y="626" width="3" height="84" fill="#00ff00"/>
<rect x="1188" y="618" width="3" height="92" fill="#00ff00"/>
<rect x="1204" y="614" width="3" height="96" fill="#00ff00"/>
<rect x="1220" y="606" width="3" height="104" fill="#00ff00"/>
<rect x="1236" y="599" width="3" height="111" fill="#00ff00"/>
<rect x="1252" y="596" width="3" height="114" fill="#00ff00"/>
</g>
<polyline points="5.5,662 21.5,656.4 37.5,652 53.5,649 69.5,648.6 85.5,649 101.5,652 117.5,656.4 133.5,659.4 149.5,662.7 165.5,665.2 181.5,666.7 197.5,667 213.5,666.5 229.5,664.5 245.5,661.4 261.5,658.9 277.5,655.6 293.5,651.9 309.5,648 325.5,646.8 341.5,646.6 357.5,646.8 373.5,648 389.5,649.3 405.5,651.2 421.5,654.4 437.5,655.9 453.5,655.1 469.5,653.9 485.5,652.1 501.5,650.6 517.5,649.6 533.5,647.6 549.5,646.3 565.5,646 581.5,646.3 597.5,648.6 613.5,651.6 629.5,655.6 645.5,658.4 661.5,661.2 677.5,663 693.5,663.5 709.5,664.2 725.5,665 741.5,665 757.5,666 773.5,666.7 789.5,667.7 805.5,668.5 821.5,670.2 837.5,673.3 853.5,675.3 869.5,678.3 885.5,680.4 901.5,683.4 917.5,686.7 933.5,688.4 949.5,691.2 965.5,693.5 981.5,696.3 997.5,698.5 1013.5,699.8 1029.5,700 1045.5,700 1061.5,699.5 1077.5,699 1093.5,698.5 1109.5,697.5 1125.5,694.5 1141.5,688.9 1157.5,682.1 1173.5,673.8 1189.5,665.2 1205.5,656.4 1221.5,646.4 1237.5,635.8 1253.5,626" fill="none" stroke="#ff0000" stroke-width="2" shape-rendering="crispEdges" stroke-linejoin="round"/>
<text x="1621" y="599.5" font-size="9.8" fill="#000" stroke="#000" stroke-width="0.25" letter-spacing="-0.45">0.005448</text>
<text x="1621" y="708.0" font-size="9.8" fill="#000" stroke="#000" stroke-width="0.25" letter-spacing="-0.4">0</text>
<text x="9" y="725.5" font-size="9.8" fill="#000" stroke="#000" stroke-width="0.25" letter-spacing="-0.22">RSI(14) 73.6847</text>
<line x1="6" y1="735.5" x2="1617" y2="735.5" stroke="#000" stroke-width="1" stroke-dasharray="3,3"/>
<line x1="6" y1="765.5" x2="1617" y2="765.5" stroke="#000" stroke-width="1" stroke-dasharray="3,3"/>
<line x1="6" y1="800.5" x2="1617" y2="800.5" stroke="#000" stroke-width="1" stroke-dasharray="3,3"/>
<polyline points="5.5,756 21.5,756 37.5,759.2 53.5,760.2 69.5,761.8 85.5,761.8 101.5,761.8 117.5,757.2 133.5,756 149.5,763 165.5,755.5 181.5,749.9 197.5,749.9 213.5,749.1 229.5,748.9 245.5,747.9 261.5,749.9 277.5,746.6 293.5,752.9 309.5,758.7 325.5,758 341.5,757.5 357.5,753.7 373.5,753.7 389.5,755.5 405.5,758 421.5,754.2 437.5,749.1 453.5,740.8 469.5,750.4 485.5,752.9 501.5,750.9 517.5,754.4 533.5,755 549.5,765.5 565.5,760.5 581.5,760.5 597.5,760.5 613.5,757.7 629.5,764.3 645.5,756.2 661.5,754.2 677.5,752.4 693.5,756.2 709.5,760 725.5,761.8 741.5,761.8 757.5,759.7 773.5,764.3 789.5,760 805.5,757.7 821.5,761.1 837.5,762.5 853.5,763.5 869.5,764.3 885.5,767.1 901.5,769.3 917.5,769.6 933.5,757.7 949.5,764.5 965.5,763 981.5,765.3 997.5,766.3 1013.5,758.7 1029.5,760.5 1045.5,760.5 1061.5,760.8 1077.5,764.3 1093.5,760.5 1109.5,756.7 1125.5,744.1 1141.5,741.1 1157.5,742.8 1173.5,741.8 1189.5,743.1 1205.5,744.9 1221.5,741.6 1237.5,740.7 1253.5,740.7" fill="none" stroke="#1e90ff" stroke-width="2" shape-rendering="crispEdges" stroke-linejoin="round"/>
<text x="1621" y="723.5" font-size="9.8" fill="#000" stroke="#000" stroke-width="0.25" letter-spacing="-0.4">100</text>
<text x="1621" y="738.5" font-size="9.8" fill="#000" stroke="#000" stroke-width="0.25" letter-spacing="-0.4">80</text>
<text x="1621" y="768.5" font-size="9.8" fill="#000" stroke="#000" stroke-width="0.25" letter-spacing="-0.4">50</text>
<text x="1621" y="803.5" font-size="9.8" fill="#000" stroke="#000" stroke-width="0.25" letter-spacing="-0.4">15</text>
<text x="1621" y="813.0" font-size="9.8" fill="#000" stroke="#000" stroke-width="0.25" letter-spacing="-0.4">0</text>
<rect x="5" y="817" width="1" height="3" fill="#000"/>
<text x="4.5" y="828.5" font-size="9.8" fill="#000" stroke="#000" stroke-width="0.25" letter-spacing="-0.3">19 Feb 2023</text>
<rect x="69" y="817" width="1" height="3" fill="#000"/>
<text x="68" y="828.5" font-size="9.8" fill="#000" stroke="#000" stroke-width="0.25" letter-spacing="-0.3">20 Feb 12:00</text>
<rect x="133" y="817" width="1" height="3" fill="#000"/>
<text x="132" y="828.5" font-size="9.8" fill="#000" stroke="#000" stroke-width="0.25" letter-spacing="-0.3">21 Feb 04:00</text>
<rect x="197" y="817" width="1" height="3" fill="#000"/>
<text x="196" y="828.5" font-size="9.8" fill="#000" stroke="#000" stroke-width="0.25" letter-spacing="-0.3">21 Feb 20:00</text>
<rect x="261" y="817" width="1" height="3" fill="#000"/>
<text x="260" y="828.5" font-size="9.8" fill="#000" stroke="#000" stroke-width="0.25" letter-spacing="-0.3">22 Feb 12:00</text>
<rect x="325" y="817" width="1" height="3" fill="#000"/>
<text x="324" y="828.5" font-size="9.8" fill="#000" stroke="#000" stroke-width="0.25" letter-spacing="-0.3">23 Feb 04:00</text>
<rect x="389" y="817" width="1" height="3" fill="#000"/>
<text x="388" y="828.5" font-size="9.8" fill="#000" stroke="#000" stroke-width="0.25" letter-spacing="-0.3">23 Feb 20:00</text>
<rect x="453" y="817" width="1" height="3" fill="#000"/>
<text x="452" y="828.5" font-size="9.8" fill="#000" stroke="#000" stroke-width="0.25" letter-spacing="-0.3">24 Feb 12:00</text>
<rect x="517" y="817" width="1" height="3" fill="#000"/>
<text x="516" y="828.5" font-size="9.8" fill="#000" stroke="#000" stroke-width="0.25" letter-spacing="-0.3">27 Feb 04:00</text>
<rect x="581" y="817" width="1" height="3" fill="#000"/>
<text x="580" y="828.5" font-size="9.8" fill="#000" stroke="#000" stroke-width="0.25" letter-spacing="-0.3">27 Feb 20:00</text>
<rect x="645" y="817" width="1" height="3" fill="#000"/>
<text x="644" y="828.5" font-size="9.8" fill="#000" stroke="#000" stroke-width="0.25" letter-spacing="-0.3">28 Feb 12:00</text>
<rect x="709" y="817" width="1" height="3" fill="#000"/>
<text x="708" y="828.5" font-size="9.8" fill="#000" stroke="#000" stroke-width="0.25" letter-spacing="-0.3">1 Mar 04:00</text>
<rect x="773" y="817" width="1" height="3" fill="#000"/>
<text x="772" y="828.5" font-size="9.8" fill="#000" stroke="#000" stroke-width="0.25" letter-spacing="-0.3">1 Mar 20:00</text>
<rect x="837" y="817" width="1" height="3" fill="#000"/>
<text x="836" y="828.5" font-size="9.8" fill="#000" stroke="#000" stroke-width="0.25" letter-spacing="-0.3">2 Mar 12:00</text>
<rect x="901" y="817" width="1" height="3" fill="#000"/>
<text x="900" y="828.5" font-size="9.8" fill="#000" stroke="#000" stroke-width="0.25" letter-spacing="-0.3">3 Mar 04:00</text>
<rect x="965" y="817" width="1" height="3" fill="#000"/>
<text x="964" y="828.5" font-size="9.8" fill="#000" stroke="#000" stroke-width="0.25" letter-spacing="-0.3">5 Mar 23:00</text>
<rect x="1029" y="817" width="1" height="3" fill="#000"/>
<text x="1028" y="828.5" font-size="9.8" fill="#000" stroke="#000" stroke-width="0.25" letter-spacing="-0.3">6 Mar 12:00</text>
<rect x="1093" y="817" width="1" height="3" fill="#000"/>
<text x="1092" y="828.5" font-size="9.8" fill="#000" stroke="#000" stroke-width="0.25" letter-spacing="-0.3">7 Mar 04:00</text>
<rect x="1157" y="817" width="1" height="3" fill="#000"/>
<text x="1156" y="828.5" font-size="9.8" fill="#000" stroke="#000" stroke-width="0.25" letter-spacing="-0.3">7 Mar 20:00</text>
<rect x="1221" y="817" width="1" height="3" fill="#000"/>
<text x="1220" y="828.5" font-size="9.8" fill="#000" stroke="#000" stroke-width="0.25" letter-spacing="-0.3">8 Mar 12:00</text>
</svg>
</body></html>
